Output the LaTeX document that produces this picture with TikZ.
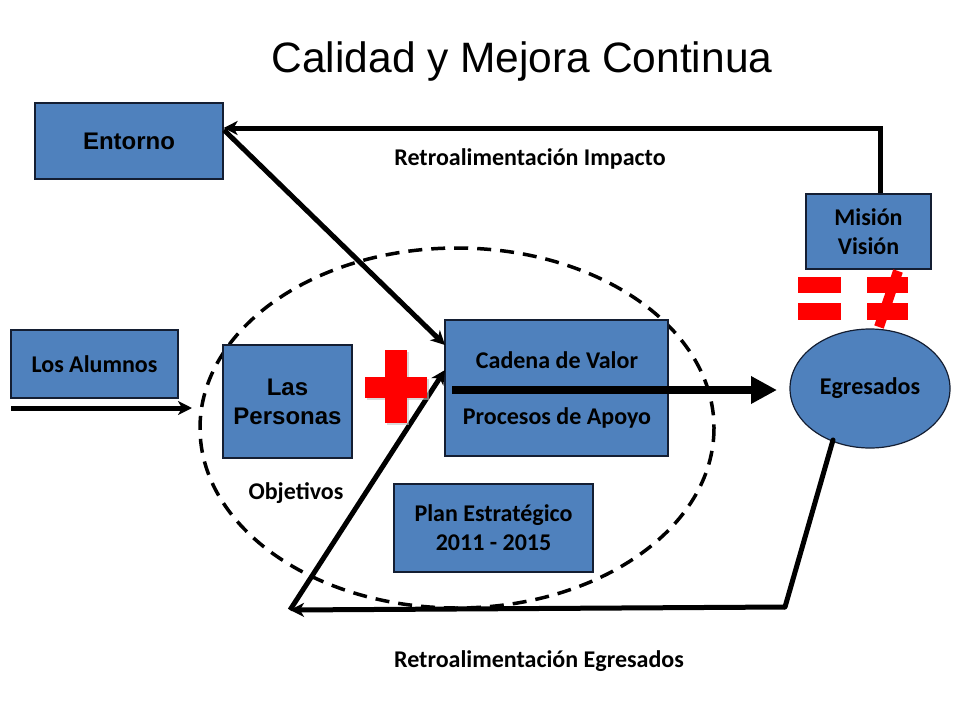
\documentclass[tikz,border=0pt]{standalone}
\usepackage{fontspec}
\setmainfont{Carlito}
\newfontfamily\arial{Liberation Sans}
\usetikzlibrary{arrows.meta,shapes.geometric}
\definecolor{boxblue}{RGB}{79,129,189}
\definecolor{boxedge}{RGB}{20,30,50}
\tikzset{
  bluebox/.style={draw=boxedge,fill=boxblue,line width=1.2pt,inner sep=0pt},
  lbl/.style={font=\bfseries\fontsize{24}{29}\selectfont,align=center,text=black},
  arial/.style={font=\arial\bfseries\fontsize{24}{29}\selectfont,align=center},
  conn/.style={line width=5pt,-{Stealth[length=14pt,width=14pt,inset=4pt]}},
  thin conn/.style={line width=5pt},
  redmark/.style={fill=red,draw=none},
}
\begin{document}
\begin{tikzpicture}[x=1pt,y=-1pt]
\useasboundingbox (0,0) rectangle (960,720);
% title
\node[font=\arial\fontsize{42.5}{50}\selectfont] (title) at (522,62) {Calidad y Mejora Continua};
% dashed ellipse
\draw[line width=3.5pt,dash pattern=on 14pt off 9pt] (457,428) ellipse [x radius=257, y radius=180];
% boxes
\node[bluebox,minimum width=188,minimum height=76,arial] (entorno) at (129,141) {Entorno};
\node[bluebox,minimum width=125,minimum height=75,lbl] (mision) at (868.5,231.5) {Misión\\Visión};
\node[bluebox,minimum width=167,minimum height=68,lbl] (alumnos) at (94.5,364) {Los Alumnos};
\node[bluebox,minimum width=129,minimum height=113,arial] (personas) at (287.5,401.5) {Las\\Personas};
\node[bluebox,minimum width=223,minimum height=136] (cadena) at (556.5,388) {};
\node[lbl] (cadtxt) at (557,360) {Cadena de Valor};
\node[lbl] (proctxt) at (557,418) {Procesos de Apoyo};
\node[bluebox,minimum width=199,minimum height=88,lbl] (plan) at (493.5,528) {Plan Estratégico\\2011 - 2015};
\node[ellipse,bluebox,minimum width=160,minimum height=119,lbl] (egresados) at (870,388.5) {Egresados};
% labels
\node[lbl] (impacto) at (530,159) {Retroalimentación Impacto};
\node[lbl] (objetivos) at (296,493) {Objetivos};
\node[lbl] (retroegr) at (539,661) {Retroalimentación Egresados};
% coordinates
\coordinate (topR) at (880,128);
\coordinate (entCorner) at (224,130);
\coordinate (alStart) at (11,408);
\coordinate (alEnd) at (192,408);
\coordinate (cadIn1) at (445,345);
\coordinate (cadIn2) at (445,370);
\coordinate (chainStart) at (452,390);
\coordinate (chainEnd) at (777,390);
\coordinate (egOut) at (833,440);
\coordinate (botR) at (785,607);
\coordinate (botL) at (290,610);
% connectors
\draw[thin conn] (mision.north -| topR) -- ([yshift=-2.5pt]topR);
\draw[conn] ([xshift=2.5pt]topR) -- (entorno.east |- topR);
\draw[conn] (entCorner) -- (cadIn1);
\draw[conn] (alStart) -- (alEnd);
\draw[thin conn,line cap=round] (egOut) -- (botR);
\draw[conn] (botR) -- (botL);
\draw[conn] (botL) -- (cadIn2);
\draw[line width=8pt,-{Triangle[length=26pt,width=26pt]}] (chainStart) -- (chainEnd);
% red plus
\begin{scope}[shift={(2,2)}]
\fill[gray!50,opacity=0.6] (385,350) rectangle (407,423);
\fill[gray!50,opacity=0.6] (365,377) rectangle (427,398);
\end{scope}
\fill[redmark] (385,350) rectangle (407,423);
\fill[redmark] (365,377) rectangle (427,398);
% equals
\fill[redmark] (798,277) rectangle (841,293);
\fill[redmark] (798,303) rectangle (841,320);
% not equal
\fill[redmark] (867,277) rectangle (908,293);
\fill[redmark] (867,303) rectangle (908,320);
\draw[red,line width=10pt] (898,271) -- (879,327);
\end{tikzpicture}
\end{document}
